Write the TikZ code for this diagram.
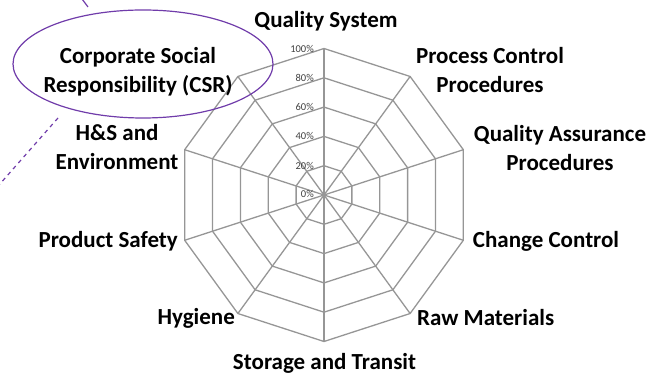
\documentclass[tikz,border=0pt]{standalone}
\usepackage{fontspec}
\setmainfont{Carlito}
\usetikzlibrary{shapes.geometric}
\definecolor{csrpurple}{RGB}{112,60,170}
\definecolor{gridgray}{RGB}{150,150,150}
\begin{document}
\begin{tikzpicture}[x=1pt,y=1pt,
  lab/.style={font=\fontsize{23}{29}\selectfont\bfseries, align=center, inner sep=0pt},
  tick/.style={font=\fontsize{10.5}{11}\selectfont, text=black!75, anchor=east, inner sep=0pt},
  gridline/.style={draw=gridgray, line width=1.3pt},
  callout/.style={draw=csrpurple, line width=1.2pt}
]
\useasboundingbox (0,0) rectangle (664,374);
% radar grid
\begin{scope}[shift={(324,179)}]
  \foreach \a in {90,54,18,-18,-54,-90,-126,-162,-198,-234}
    \draw[gridline] (0,0) -- (\a:146.5);
  \foreach \i in {1,...,5}{
    \pgfmathsetmacro\rr{29.3*\i}
    \draw[gridline] (90:\rr) \foreach \a in {54,18,-18,-54,-90,-126,-162,-198,-234}{ -- (\a:\rr)} -- cycle;
  }
\end{scope}
% tick labels
\node[tick] (t0) at (314,180) {0\%};
\node[tick] (t20) at (314,208.3) {20\%};
\node[tick] (t40) at (314,237.6) {40\%};
\node[tick] (t60) at (314,266.9) {60\%};
\node[tick] (t80) at (314,296.2) {80\%};
\node[tick] (t100) at (314,325.5) {100\%};
% axis labels
\node[lab] (qs) at (326,353) {Quality System};
\node[lab] (pc) at (490,303.5) {Process Control\\Procedures};
\node[lab] (qa) at (560,226) {Quality Assurance\\Procedures};
\node[lab] (cc) at (546,133) {Change Control};
\node[lab, anchor=west] (rm) at (417,56) {Raw Materials};
\node[lab] (st) at (324.5,11) {Storage and Transit};
\node[lab, anchor=east] (hy) at (235,56) {Hygiene};
\node[lab, anchor=east] (ps) at (178,133) {Product Safety};
\node[lab] (hs) at (117,226.5) {H\&S and\\Environment};
\node[lab] (csr) at (138,302) {Corporate Social\\Responsibility (CSR)};
% callout ellipse and lines
\node[callout, ellipse, minimum width=260pt, minimum height=108pt, inner sep=0pt] (oval) at (143,310) {};
\coordinate (d1) at (58,256);
\coordinate (d2) at (-1,189);
\draw[callout, dashed, dash pattern=on 4pt off 4pt] (d1) -- (d2);
\coordinate (u1) at (82,375);
\coordinate (u2) at (88,367);
\draw[callout] (u1) -- (u2);
\end{tikzpicture}
\end{document}
